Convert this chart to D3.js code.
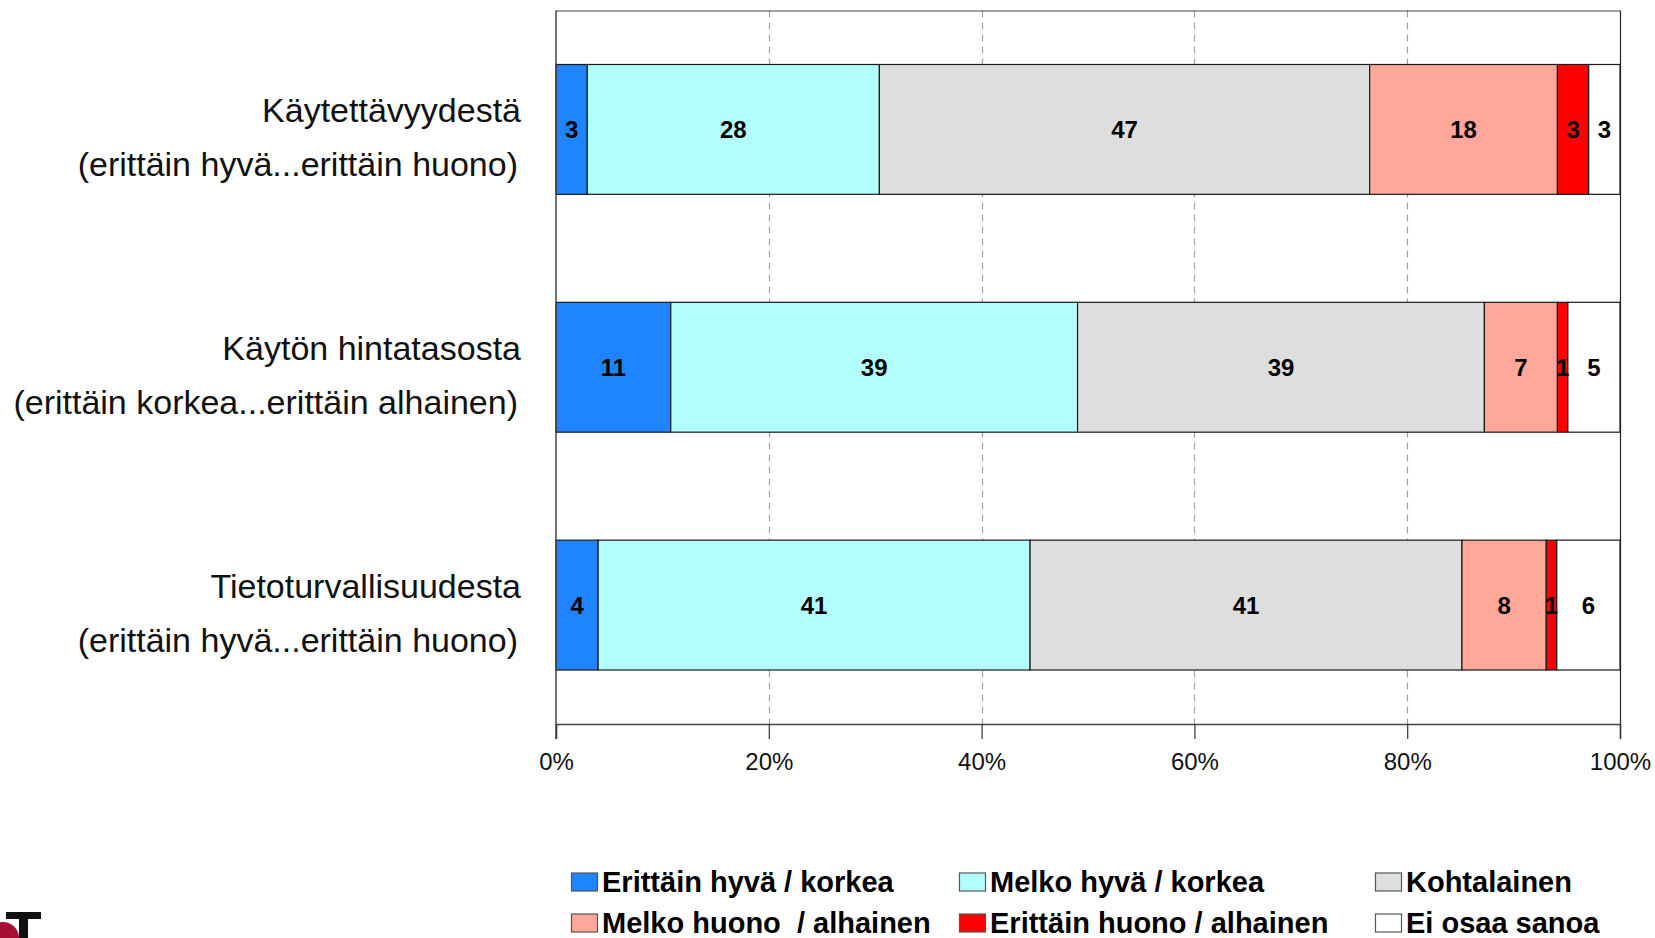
<!DOCTYPE html>
<html>
<head>
<meta charset="utf-8">
<script src="https://cdn.jsdelivr.net/npm/d3@7"></script>
<style>
  body { margin: 0; background: #fff; }
  svg { display: block; font-family: "Liberation Sans", Arial, sans-serif; }
</style>
</head>
<body>
<div id="chart"></div>
<script>
// categories (two text lines each)
var categories = ["Käytettävyydestä", "Käytön hintatasosta", "Tietoturvallisuudesta"];
var subLabels = ["(erittäin hyvä...erittäin huono)", "(erittäin korkea...erittäin alhainen)", "(erittäin hyvä...erittäin huono)"];

// series names and values (percent, as labelled)
var seriesNames = ["Erittäin hyvä / korkea", "Melko hyvä / korkea", "Kohtalainen",
                   "Melko huono  / alhainen", "Erittäin huono / alhainen", "Ei osaa sanoa"];
var erittainHyva = [3, 11, 4];
var melkoHyva    = [28, 39, 41];
var kohtalainen  = [47, 39, 41];
var melkoHuono   = [18, 7, 8];
var erittainHuono = [3, 1, 1];
var eiOsaa       = [3, 5, 6];

var seriesColors = ["#1e84ff", "#b3ffff", "#dedede", "#ffa89a", "#ff0000", "#ffffff"];
var tickValues = [0, 0.2, 0.4, 0.6, 0.8, 1];

var W = 1655, H = 938;
var margin = {top: 10.5, left: 556, right: 35, bottom: 214};
var width = W - margin.left - margin.right,
    height = H - margin.top - margin.bottom;

var svg = d3.select("#chart").append("svg")
    .attr("width", W)
    .attr("height", H);

var g = svg.append("g")
    .attr("transform", "translate(" + margin.left + "," + margin.top + ")");

// build rows for the stack
var cols = [erittainHyva, melkoHyva, kohtalainen, melkoHuono, erittainHuono, eiOsaa];
var rows = categories.map(function(c, i) {
    var r = {cat: c};
    seriesNames.forEach(function(s, j) { r[s] = cols[j][i]; });
    return r;
});

var stack = d3.stack().keys(seriesNames).offset(d3.stackOffsetExpand);
var layers = stack(rows);

var x = d3.scaleLinear().domain([0, 1]).range([0, width]);
var y = d3.scaleBand().domain(categories).range([0, height]).paddingInner(0.454).paddingOuter(0.227);

// dashed grid lines
g.selectAll(".grid")
    .data(tickValues.slice(1, -1))
    .enter().append("line")
    .attr("x1", function(d) { return Math.round(x(d)) + 0.5; })
    .attr("x2", function(d) { return Math.round(x(d)) + 0.5; })
    .attr("y1", 0)
    .attr("y2", height)
    .attr("stroke", "#a0a0a0")
    .attr("stroke-width", 1.2)
    .attr("stroke-dasharray", "7,5");

// frame top and right
g.append("line").attr("x1", 0).attr("x2", width).attr("y1", 0.5).attr("y2", 0.5)
    .attr("stroke", "#444").attr("stroke-width", 1.2);
g.append("line").attr("x1", width + 0.5).attr("x2", width + 0.5).attr("y1", 0).attr("y2", height)
    .attr("stroke", "#222").attr("stroke-width", 1.2);

// bars
var layer = g.selectAll(".layer")
    .data(layers)
    .enter().append("g")
    .attr("fill", function(d, i) { return seriesColors[i]; });

layer.selectAll("rect")
    .data(function(d) { return d; })
    .enter().append("rect")
    .attr("x", function(d) { return x(d[0]); })
    .attr("width", function(d) { return x(d[1]) - x(d[0]); })
    .attr("y", function(d) { return y(d.data.cat); })
    .attr("height", y.bandwidth())
    .attr("stroke", "#1a1a1a")
    .attr("stroke-width", 1.2);

// value labels
layers.forEach(function(l) {
    g.selectAll(null)
        .data(l)
        .enter().append("text")
        .attr("x", function(d) { return (x(d[0]) + x(d[1])) / 2; })
        .attr("y", function(d) { return y(d.data.cat) + y.bandwidth() / 2; })
        .attr("dy", "0.36em")
        .attr("text-anchor", "middle")
        .style("font-size", "24px")
        .style("font-weight", "bold")
        .text(function(d) { return d.data[l.key]; });
});

// x axis
var xAxis = g.append("g")
    .attr("transform", "translate(0," + height + ")")
    .call(d3.axisBottom(x).tickValues(tickValues).tickFormat(d3.format(".0%")).tickSize(15).tickPadding(14));
xAxis.select(".domain").attr("stroke", "#444").attr("stroke-width", 1.5);
xAxis.selectAll(".tick line").attr("stroke", "#333").attr("stroke-width", 1.2);
xAxis.selectAll(".tick text").style("font-size", "24px").style("font-family", "'Liberation Sans', Arial, sans-serif").attr("fill", "#111");

// left axis line
g.append("line").attr("x1", 0).attr("x2", 0).attr("y1", 0).attr("y2", height + 15)
    .attr("stroke", "#444").attr("stroke-width", 1.5);

// category labels
var catLabel = g.selectAll(".cat")
    .data(categories)
    .enter().append("g")
    .attr("transform", function(d) { return "translate(-35," + (y(d) + y.bandwidth() / 2) + ")"; });

catLabel.append("text")
    .attr("y", -19)
    .attr("dy", "0.35em")
    .attr("text-anchor", "end")
    .style("font-size", "34px")
    .attr("fill", "#111")
    .text(function(d) { return d; });

catLabel.append("text")
    .attr("x", -3)
    .attr("y", 35)
    .attr("dy", "0.35em")
    .attr("text-anchor", "end")
    .style("font-size", "34px")
    .attr("fill", "#111")
    .text(function(d, i) { return subLabels[i]; });

// legend
var legendX = [571, 959, 1375], legendY = [882, 923];
var legend = svg.selectAll(".legend")
    .data(seriesNames)
    .enter().append("g")
    .attr("transform", function(d, i) {
        return "translate(" + legendX[i % 3] + "," + legendY[Math.floor(i / 3)] + ")";
    });

legend.append("rect")
    .attr("x", 0.5)
    .attr("y", -9)
    .attr("width", 26)
    .attr("height", 18)
    .attr("fill", function(d, i) { return seriesColors[i]; })
    .attr("stroke", "#555")
    .attr("stroke-width", 1.2);

legend.append("text")
    .attr("x", 31)
    .attr("dy", "0.36em")
    .style("font-size", "29px")
    .style("font-weight", "bold")
    .style("white-space", "pre")
    .attr("fill", "#000")
    .text(function(d) { return d; });

// partial logo in the corner
svg.append("circle").attr("cx", 3).attr("cy", 938).attr("r", 16).attr("fill", "#a50d33");
svg.append("rect").attr("x", 6).attr("y", 912).attr("width", 35).attr("height", 7).attr("fill", "#111");
svg.append("rect").attr("x", 19).attr("y", 912).attr("width", 9).attr("height", 26).attr("fill", "#111");
</script>
</body>
</html>
